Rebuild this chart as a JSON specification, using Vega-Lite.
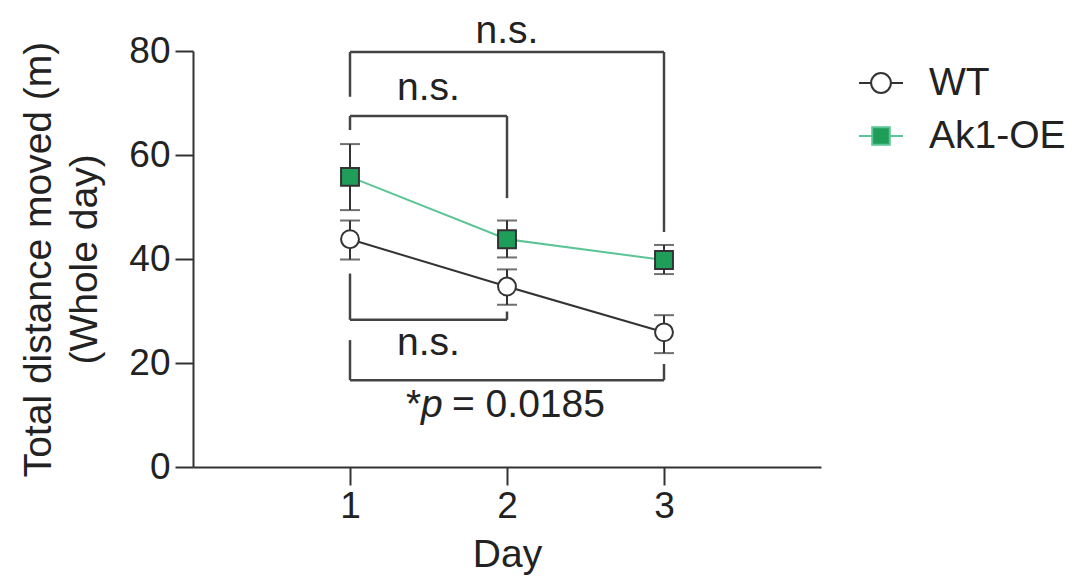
{
  "$schema": "https://vega.github.io/schema/vega-lite/v6.json",
  "autosize": "none",
  "width": 628,
  "height": 416,
  "padding": {"left": 193, "top": 51, "right": 251, "bottom": 113},
  "background": "white",
  "config": {
    "view": {"stroke": null},
    "font": "Liberation Sans",
    "axis": {
      "grid": false,
      "domainColor": "#333",
      "domainWidth": 2,
      "tickColor": "#333",
      "tickWidth": 2,
      "tickSize": 18,
      "labelFont": "Liberation Sans",
      "labelFontSize": 37,
      "labelColor": "#222",
      "titleFont": "Liberation Sans",
      "titleFontSize": 39,
      "titleFontWeight": "normal",
      "titleColor": "#222"
    },
    "legend": {
      "labelFont": "Liberation Sans",
      "labelFontSize": 39,
      "labelColor": "#222"
    }
  },
  "datasets": {
    "main": [
      {"day": 1, "group": "WT", "mean": 43.8, "lo": 39.9, "hi": 47.4},
      {"day": 2, "group": "WT", "mean": 34.7, "lo": 31.2, "hi": 38.0},
      {"day": 3, "group": "WT", "mean": 25.9, "lo": 21.9, "hi": 29.2},
      {"day": 1, "group": "Ak1-OE", "mean": 55.8, "lo": 49.4, "hi": 62.1},
      {"day": 2, "group": "Ak1-OE", "mean": 43.8, "lo": 40.3, "hi": 47.4},
      {"day": 3, "group": "Ak1-OE", "mean": 39.8, "lo": 37.1, "hi": 42.7}
    ],
    "brackets": [
      {"x1": 1, "x2": 3, "y1": 79.8, "y2": 79.8},
      {"x1": 1, "x2": 1, "y1": 79.8, "y2": 71.2},
      {"x1": 3, "x2": 3, "y1": 79.8, "y2": 45.2},
      {"x1": 1, "x2": 2, "y1": 67.5, "y2": 67.5},
      {"x1": 1, "x2": 1, "y1": 67.5, "y2": 64.8},
      {"x1": 2, "x2": 2, "y1": 67.5, "y2": 51.7},
      {"x1": 1, "x2": 2, "y1": 28.3, "y2": 28.3},
      {"x1": 1, "x2": 1, "y1": 28.3, "y2": 37.2},
      {"x1": 2, "x2": 2, "y1": 28.3, "y2": 29.9},
      {"x1": 1, "x2": 3, "y1": 16.7, "y2": 16.7},
      {"x1": 1, "x2": 1, "y1": 16.7, "y2": 24.4},
      {"x1": 3, "x2": 3, "y1": 16.7, "y2": 19.8}
    ],
    "notes": [
      {"day": 2, "value": 81.5, "label": "n.s.", "part": "ns"},
      {"day": 1.5, "value": 70.6, "label": "n.s.", "part": "ns"},
      {"day": 1.5, "value": 21.5, "label": "n.s.", "part": "ns"},
      {"day": 2, "value": 9.7, "label": "*", "part": "star"},
      {"day": 2, "value": 9.7, "label": "p", "part": "p"},
      {"day": 2, "value": 9.7, "label": "= 0.0185", "part": "rest"}
    ]
  },
  "layer": [
    {
      "data": {"name": "brackets"},
      "mark": {"type": "rule", "color": "#444", "strokeWidth": 2.5},
      "encoding": {
        "x": {"field": "x1", "type": "quantitative", "scale": {"domain": [0, 4]},
          "axis": {"values": [1, 2, 3], "format": "d", "labelPadding": 3, "title": "Day", "titleY": 99, "titleBaseline": "alphabetic"}},
        "x2": {"field": "x2"},
        "y": {"field": "y1", "type": "quantitative", "scale": {"domain": [0, 80]},
          "axis": {"values": [0, 20, 40, 60, 80], "format": "d", "labelPadding": 5,
            "title": ["Total distance moved (m)", "(Whole day)"],
            "titleX": -143, "titleY": 208, "titleAngle": -90, "titleAlign": "center",
            "titleBaseline": "alphabetic", "titleLineHeight": 46}},
        "y2": {"field": "y2"}
      }
    },
    {
      "data": {"name": "main"},
      "mark": {"type": "line", "strokeWidth": 2},
      "encoding": {
        "x": {"field": "day", "type": "quantitative"},
        "y": {"field": "mean", "type": "quantitative"},
        "color": {"field": "group", "type": "nominal",
          "scale": {"domain": ["WT", "Ak1-OE"], "range": ["#333333", "#5cc596"]},
          "legend": {
            "title": null, "orient": "none", "legendX": 665, "legendY": 9,
            "symbolType": "M-1,0H-0.45M0.45,0H1M-0.45,0A0.45,0.45 0 1,0 0.45,0A0.45,0.45 0 1,0 -0.45,0Z",
            "symbolSize": 1936, "symbolStrokeWidth": 2, "labelOffset": 25,
            "rowPadding": 10, "padding": 0,
            "encode": {
              "symbols": {"update": {
                "shape": {"signal": "datum.value === 'WT' ? 'M-1,0H-0.45M0.45,0H1M-0.45,0A0.45,0.45 0 1,0 0.45,0A0.45,0.45 0 1,0 -0.45,0Z' : 'M-1,0H-0.4M0.4,0H1M-0.4,-0.4H0.4V0.4H-0.4Z'"},
                "fill": {"signal": "datum.value === 'WT' ? 'white' : '#1f9e5a'"},
                "stroke": {"signal": "datum.value === 'WT' ? '#333333' : '#5cc596'"},
                "strokeWidth": {"value": 2},
                "opacity": {"value": 1}
              }}
            }
          }}
      }
    },
    {
      "data": {"name": "main"},
      "mark": {"type": "rule", "color": "#333", "strokeWidth": 2},
      "encoding": {
        "x": {"field": "day", "type": "quantitative"},
        "y": {"field": "lo", "type": "quantitative"},
        "y2": {"field": "hi"}
      }
    },
    {
      "data": {"name": "main"},
      "mark": {"type": "tick", "orient": "horizontal", "color": "#333", "size": 20, "thickness": 2},
      "encoding": {
        "x": {"field": "day", "type": "quantitative"},
        "y": {"field": "lo", "type": "quantitative"}
      }
    },
    {
      "data": {"name": "main"},
      "mark": {"type": "tick", "orient": "horizontal", "color": "#333", "size": 20, "thickness": 2},
      "encoding": {
        "x": {"field": "day", "type": "quantitative"},
        "y": {"field": "hi", "type": "quantitative"}
      }
    },
    {
      "data": {"name": "main"},
      "transform": [{"filter": "datum.group === 'WT'"}],
      "mark": {"type": "point", "shape": "circle", "filled": true, "fill": "white", "stroke": "#333", "strokeWidth": 2, "size": 320, "opacity": 1},
      "encoding": {
        "x": {"field": "day", "type": "quantitative"},
        "y": {"field": "mean", "type": "quantitative"}
      }
    },
    {
      "data": {"name": "main"},
      "transform": [{"filter": "datum.group === 'Ak1-OE'"}],
      "mark": {"type": "point", "shape": "square", "filled": true, "fill": "#1f9e5a", "stroke": "#333", "strokeWidth": 2, "size": 320, "opacity": 1},
      "encoding": {
        "x": {"field": "day", "type": "quantitative"},
        "y": {"field": "mean", "type": "quantitative"}
      }
    },
    {
      "data": {"name": "notes"},
      "transform": [{"filter": "datum.part === 'ns'"}],
      "mark": {"type": "text", "fontSize": 39, "font": "Liberation Sans", "color": "#222", "baseline": "alphabetic", "align": "center"},
      "encoding": {
        "x": {"field": "day", "type": "quantitative"},
        "y": {"field": "value", "type": "quantitative"},
        "text": {"field": "label"}
      }
    },
    {
      "data": {"name": "notes"},
      "transform": [{"filter": "datum.part === 'star'"}],
      "mark": {"type": "text", "fontSize": 39, "font": "Liberation Sans", "color": "#222", "baseline": "alphabetic", "align": "left", "dx": -101},
      "encoding": {
        "x": {"field": "day", "type": "quantitative"},
        "y": {"field": "value", "type": "quantitative"},
        "text": {"field": "label"}
      }
    },
    {
      "data": {"name": "notes"},
      "transform": [{"filter": "datum.part === 'p'"}],
      "mark": {"type": "text", "fontSize": 39, "font": "Liberation Sans", "fontStyle": "italic", "color": "#222", "baseline": "alphabetic", "align": "left", "dx": -86},
      "encoding": {
        "x": {"field": "day", "type": "quantitative"},
        "y": {"field": "value", "type": "quantitative"},
        "text": {"field": "label"}
      }
    },
    {
      "data": {"name": "notes"},
      "transform": [{"filter": "datum.part === 'rest'"}],
      "mark": {"type": "text", "fontSize": 39, "font": "Liberation Sans", "color": "#222", "baseline": "alphabetic", "align": "left", "dx": -55},
      "encoding": {
        "x": {"field": "day", "type": "quantitative"},
        "y": {"field": "value", "type": "quantitative"},
        "text": {"field": "label"}
      }
    }
  ]
}
